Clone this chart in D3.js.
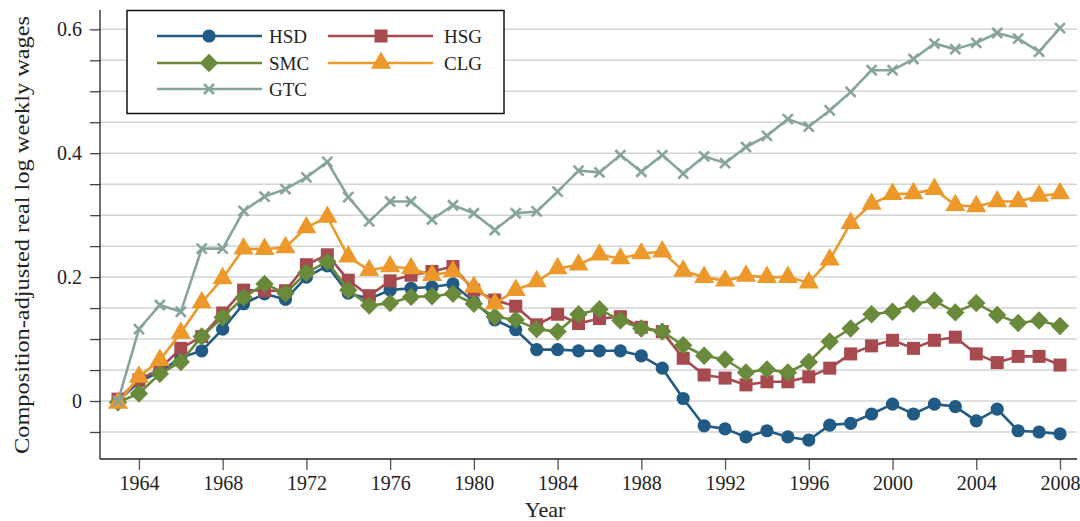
<!DOCTYPE html>
<html><head><meta charset="utf-8">
<script src="https://cdn.jsdelivr.net/npm/d3@7"></script>
<style>body{margin:0;background:#fff}text{font-family:"Liberation Serif","Times New Roman",serif;fill:#222}</style>
</head><body><svg id="c" width="1080" height="521"></svg>
<script>
const years = [1963,1964,1965,1966,1967,1968,1969,1970,1971,1972,1973,1974,1975,1976,1977,1978,1979,1980,1981,1982,1983,1984,1985,1986,1987,1988,1989,1990,1991,1992,1993,1994,1995,1996,1997,1998,1999,2000,2001,2002,2003,2004,2005,2006,2007,2008];
const HSD = [0,0.031,0.047,0.07,0.081,0.116,0.157,0.173,0.164,0.2,0.218,0.174,0.165,0.179,0.182,0.184,0.189,0.16,0.131,0.115,0.083,0.083,0.081,0.081,0.081,0.073,0.053,0.004,-0.04,-0.045,-0.058,-0.048,-0.058,-0.063,-0.039,-0.036,-0.021,-0.005,-0.021,-0.005,-0.009,-0.032,-0.013,-0.048,-0.05,-0.053];
const HSG = [0.003,0.034,0.052,0.085,0.104,0.142,0.179,0.178,0.178,0.22,0.236,0.195,0.17,0.194,0.203,0.209,0.217,0.179,0.163,0.153,0.123,0.14,0.125,0.133,0.136,0.119,0.112,0.069,0.042,0.037,0.026,0.031,0.031,0.039,0.053,0.076,0.089,0.098,0.085,0.098,0.103,0.076,0.062,0.072,0.072,0.058];
const SMC = [-0.002,0.012,0.044,0.063,0.104,0.135,0.167,0.189,0.174,0.207,0.225,0.179,0.154,0.158,0.168,0.169,0.173,0.157,0.136,0.131,0.116,0.112,0.14,0.148,0.13,0.117,0.112,0.09,0.073,0.067,0.046,0.051,0.046,0.063,0.096,0.117,0.14,0.144,0.157,0.162,0.143,0.158,0.139,0.126,0.13,0.121];
const CLG = [-0.003,0.039,0.066,0.11,0.159,0.198,0.246,0.245,0.248,0.28,0.297,0.233,0.211,0.217,0.214,0.203,0.209,0.184,0.157,0.179,0.193,0.214,0.22,0.236,0.23,0.238,0.241,0.21,0.2,0.194,0.202,0.2,0.2,0.191,0.228,0.287,0.318,0.334,0.335,0.342,0.316,0.314,0.322,0.322,0.331,0.335];
const GTC = [0,0.116,0.155,0.144,0.246,0.246,0.307,0.33,0.342,0.361,0.386,0.329,0.29,0.322,0.322,0.293,0.316,0.303,0.276,0.303,0.306,0.338,0.372,0.369,0.397,0.37,0.397,0.367,0.395,0.384,0.41,0.428,0.455,0.443,0.469,0.499,0.534,0.534,0.552,0.577,0.568,0.578,0.594,0.585,0.564,0.602];
const seriesNames = ["HSD","HSG","SMC","CLG","GTC"];
const seriesColors = ["#215a85","#a64a50","#688a3a","#ec982a","#86a598"];
const seriesMarkers = ["circle","square","diamond","triangle","x"];
const xTicks = [1964,1968,1972,1976,1980,1984,1988,1992,1996,2000,2004,2008];
const yTicks = [-0.05,0,0.05,0.1,0.15,0.2,0.25,0.3,0.35,0.4,0.45,0.5,0.55,0.6];
const yLabelTicks = [0,0.2,0.4,0.6];

(function(){
const values = [HSD,HSG,SMC,CLG,GTC];
const svg = d3.select("#c");
const x = d3.scaleLinear().domain([1963,2008]).range([118,1060]);
const y = d3.scaleLinear().domain([0,0.6]).range([401,29.3]);
const pl = 100, pr = 1077, pt = 10, pb = 459;

svg.append("g").selectAll("line").data(yTicks).join("line")
  .attr("x1",pl).attr("x2",pr).attr("y1",d=>y(d)).attr("y2",d=>y(d))
  .attr("stroke","#d4d4d4").attr("stroke-width",1.5);

const yAxis = d3.axisLeft(y).tickValues(yTicks).tickSize(10).tickPadding(8)
  .tickFormat(d => yLabelTicks.some(v=>Math.abs(v-d)<1e-9) ? d3.format("")(+d.toFixed(1)) : "");
const gy = svg.append("g").attr("transform",`translate(${pl},0)`).call(yAxis);
gy.select(".domain").remove();
gy.selectAll(".tick line").attr("stroke","#444").attr("stroke-width",1.3);
gy.selectAll(".tick text").attr("font-size",20).style("fill","#222").attr("font-family","Liberation Serif");
svg.append("line").attr("x1",pl).attr("x2",pl).attr("y1",pt).attr("y2",pb).attr("stroke","#222").attr("stroke-width",1.3);

const xAxis = d3.axisBottom(x).tickValues(xTicks).tickSize(11).tickPadding(6).tickFormat(d3.format("d"));
const gx = svg.append("g").attr("transform",`translate(0,${pb})`).call(xAxis);
gx.select(".domain").remove();
gx.selectAll(".tick line").attr("stroke","#555").attr("stroke-width",1.3);
gx.selectAll(".tick text").attr("font-size",20).style("fill","#222").attr("font-family","Liberation Serif");
svg.append("line").attr("x1",pl).attr("x2",pr).attr("y1",pb).attr("y2",pb).attr("stroke","#222").attr("stroke-width",1.3);

svg.append("text").attr("x",545).attr("y",517).attr("text-anchor","middle").attr("font-size",22).text("Year");
svg.append("text").attr("transform","translate(29,235) rotate(-90)").attr("text-anchor","middle").attr("font-size",22)
  .attr("textLength",438).attr("lengthAdjust","spacingAndGlyphs")
  .text("Composition-adjusted real log weekly wages");

function marker(sel, type, color){
  if(type==="circle") sel.append("circle").attr("r",6.6).attr("fill",color);
  else if(type==="square") sel.append("rect").attr("x",-6.5).attr("y",-6.5).attr("width",13).attr("height",13).attr("fill",color);
  else if(type==="diamond") sel.append("path").attr("d","M0,-9.2L9.2,0L0,9.2L-9.2,0Z").attr("fill",color);
  else if(type==="triangle") sel.append("path").attr("d",d3.symbol(d3.symbolTriangle,175)()).attr("fill",color);
  else if(type==="x") sel.append("path").attr("d","M-5,-5L5,5M-5,5L5,-5").attr("stroke",color).attr("stroke-width",2.6).attr("fill","none");
}

const line = d3.line().x((d,i)=>x(years[i])).y(d=>y(d));
values.forEach((vals,k)=>{
  const g = svg.append("g");
  g.append("path").attr("d",line(vals)).attr("fill","none").attr("stroke",seriesColors[k]).attr("stroke-width",2.6).attr("stroke-linejoin","round");
  vals.forEach((v,i)=>{
    const m = g.append("g").attr("transform",`translate(${x(years[i])},${y(v)})`);
    marker(m, seriesMarkers[k], seriesColors[k]);
  });
});

const lg = svg.append("g");
lg.append("rect").attr("x",127).attr("y",10.5).attr("width",377).attr("height",103).attr("fill","#fff").attr("stroke","#111").attr("stroke-width",1.5);
const legendPos = [[0,0],[1,0],[0,1],[1,1],[0,2]];
const colX = [[157,262,209,269],[328,433,381,444]];
const rowY = [36,63,89];
seriesNames.forEach((name,k)=>{
  const [c,r] = legendPos[k];
  const [x1,x2,mx,tx] = colX[c];
  const yy = rowY[r];
  lg.append("line").attr("x1",x1).attr("x2",x2).attr("y1",yy).attr("y2",yy).attr("stroke",seriesColors[k]).attr("stroke-width",2.6);
  marker(lg.append("g").attr("transform",`translate(${mx},${yy})`), seriesMarkers[k], seriesColors[k]);
  lg.append("text").attr("x",tx).attr("y",yy).attr("dy","0.35em").attr("font-size",19).text(name);
});
})();
</script></body></html>
